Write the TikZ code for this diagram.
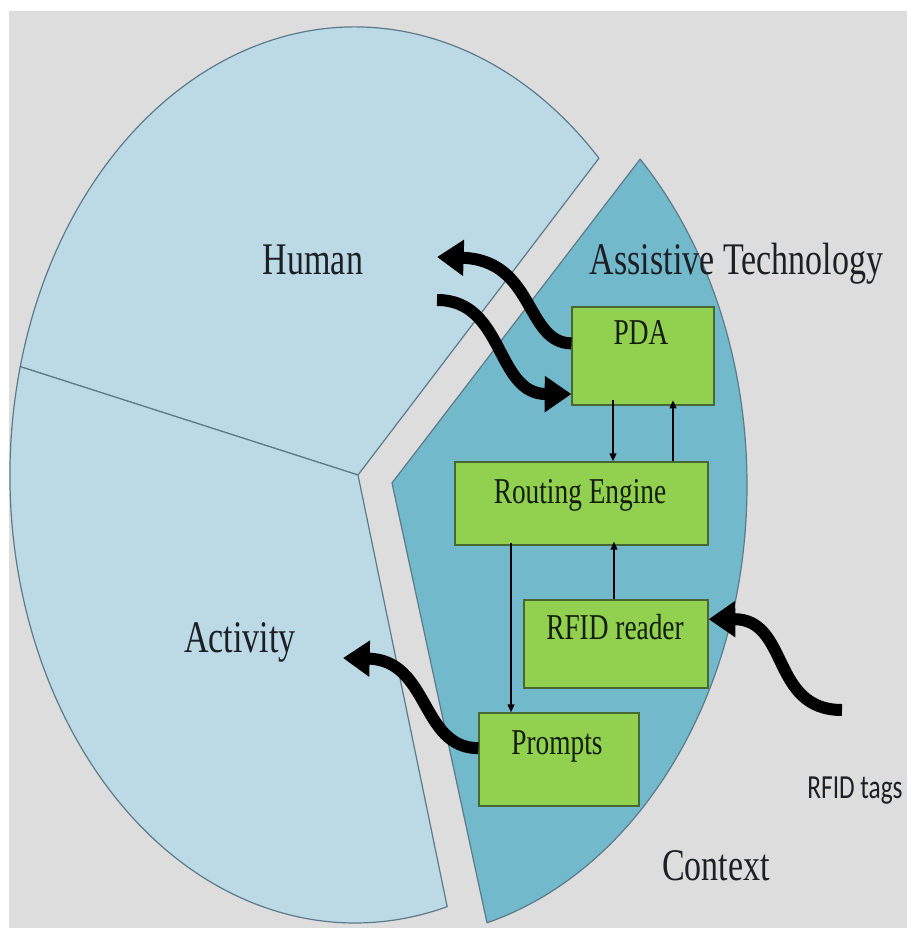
\documentclass[tikz,border=0pt]{standalone}
\usepackage{fontspec}
\setmainfont{Liberation Serif}
\newfontfamily\tagfont{Carlito}
\usepackage{graphicx}
\usetikzlibrary{arrows.meta}
\newcommand{\vstretch}[1]{\scalebox{1}[1.33]{#1}}

\begin{document}
\begin{tikzpicture}[x=0.75pt,y=0.75pt,yscale=-1,xscale=1,
  sector/.style={draw={rgb,255:red,92;green,122;blue,138}, line width=0.9pt, line join=round},
  unit/.style={draw={rgb,255:red,72;green,104;blue,50}, fill={rgb,255:red,146;green,208;blue,80}, line width=0.9pt},
  bigtext/.style={anchor=base, text={rgb,255:red,28;green,32;blue,36}, font=\fontsize{25.5}{30}\selectfont},
  boxtext/.style={anchor=base, text={rgb,255:red,20;green,30;blue,12}, font=\fontsize{20.5}{24}\selectfont},
  flow/.style={line width=9pt, -{Triangle[length=20pt,width=26pt]}},
  link/.style={line width=1.4pt, -{Triangle[length=6pt,width=5pt]}}]
\useasboundingbox (0,0) rectangle (907,928);

%Background
\fill[white] (0,0) rectangle (907,928);
\fill[fill={rgb,255:red,221;green,221;blue,221}] (9,11) rectangle (907,928);

%Pie: Human
\draw[sector, fill={rgb,255:red,188;green,218;blue,229}] (358,475) -- (20.25,366.62) arc[start angle=194, end angle=315, x radius=345, y radius=448] -- cycle;
%Pie: Activity
\draw[sector, fill={rgb,255:red,188;green,218;blue,229}] (358,475) -- (20.25,366.62) arc[start angle=194, end angle=74.5, x radius=345, y radius=448] -- cycle;
%Pie: Assistive Technology (pulled out)
\draw[sector, fill={rgb,255:red,114;green,185;blue,204}] (392,483) -- (640.13,159.14) arc[start angle=-46, end angle=75.1, x radius=350, y radius=453] -- cycle;

%Boxes
\node[unit, minimum width=106.5pt, minimum height=73.5pt] (pda) at (643,356) {};
\node[unit, minimum width=189.75pt, minimum height=62.25pt] (routing) at (581.5,503.5) {};
\node[unit, minimum width=138pt, minimum height=66pt] (reader) at (616,644) {};
\node[unit, minimum width=120pt, minimum height=69.75pt] (prompts) at (559,759.5) {};

%Free ends of the wavy arrows
\coordinate (toHuman) at (437,257);
\coordinate (fromHuman) at (437,300);
\coordinate (toActivity) at (343,658);
\coordinate (fromTags) at (842,710);

%Wavy arrows
\draw[flow] (pda.170) .. controls (525,343) and (535,260) .. (toHuman);
\draw[flow] (fromHuman) .. controls (505,300) and (495,394) .. (pda.208);
\draw[flow] (prompts.172) .. controls (420,748) and (430,660) .. (toActivity);
\draw[flow] (fromTags) .. controls (770,710) and (790,619) .. (reader.15);

%Thin arrows
\draw[link] ([xshift=-22.5pt,yshift=-4pt]pda.south) -- ([xshift=-22.5pt]pda.south |- routing.north);
\draw[link] ([xshift=22.5pt]pda.south |- routing.north) -- ([xshift=22.5pt,yshift=-4pt]pda.south);
\draw[link] ([xshift=-36pt,yshift=-2pt]prompts.north |- routing.south) -- ([xshift=-36pt]prompts.north);
\draw[link] ([xshift=-1.5pt]reader.north) -- ([xshift=-1.5pt,yshift=-3pt]reader.north |- routing.south);

% Text Node
\node[boxtext] (pdatext) at (641,344) {\vstretch{PDA}};
% Text Node
\node[boxtext] (routingtext) at (580,503.5) {\vstretch{Routing Engine}};
% Text Node
\node[boxtext] (readertext) at (615,639) {\vstretch{RFID reader}};
% Text Node
\node[boxtext] (promptstext) at (557,754) {\vstretch{Prompts}};
% Text Node
\node[bigtext] (human) at (313,274) {\vstretch{Human}};
% Text Node
\node[bigtext] (assistive) at (736.5,274) {\vstretch{Assistive Technology}};
% Text Node
\node[bigtext] (activity) at (240,652) {\vstretch{Activity}};
% Text Node
\node[bigtext] (context) at (716,880) {\vstretch{Context}};
% Text Node
\node[anchor=base, text={rgb,255:red,28;green,32;blue,36}, font=\tagfont\fontsize{19}{23}\selectfont] (tags) at (855,798) {\vstretch{RFID tags}};

\end{tikzpicture}
\end{document}
